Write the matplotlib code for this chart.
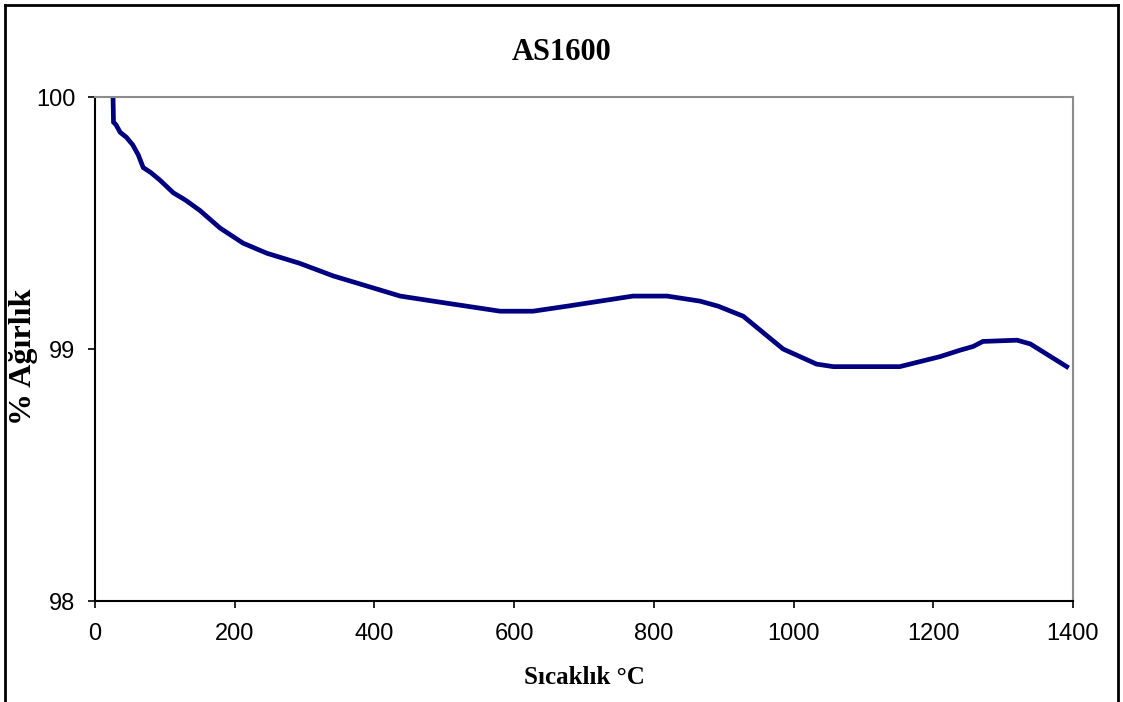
#!/usr/bin/env python3
"""TGA curve for AS1600: weight % vs temperature, Excel-like styling."""
import matplotlib
matplotlib.use("Agg")
import matplotlib.pyplot as plt
from matplotlib.lines import Line2D

# Temperature (C) and weight (%)
temp = [25.8, 26.5, 30, 36, 45, 54, 62, 69, 80, 93, 112, 130, 150, 179, 212,
        246, 293, 341, 389, 437, 484, 532, 580, 627, 676, 723, 770, 819, 866,
        892, 928, 985, 1009, 1033, 1057, 1152, 1181, 1210, 1238, 1257, 1271,
        1320, 1339, 1391]
weight = [100.0, 99.90, 99.89, 99.86, 99.84, 99.81, 99.77, 99.72, 99.70, 99.67,
          99.62, 99.59, 99.55, 99.48, 99.42, 99.38, 99.34, 99.29, 99.25, 99.21,
          99.19, 99.17, 99.15, 99.15, 99.17, 99.19, 99.21, 99.21, 99.19, 99.17,
          99.13, 99.00, 98.97, 98.94, 98.93, 98.93, 98.95, 98.97, 98.995, 99.01,
          99.03, 99.035, 99.02, 98.93]

x_ticks = [0, 200, 400, 600, 800, 1000, 1200, 1400]
y_ticks = [98, 99, 100]

SERIF = "Liberation Serif"
SANS = "Liberation Sans"


def main():
    fig = plt.figure(figsize=(11.23, 7.02), dpi=100)
    ax = fig.add_axes([95 / 1123, 1 - 601 / 702, 978 / 1123, 504 / 702])

    ax.plot(temp, weight, color="#000080", linewidth=3.4, solid_joinstyle="miter")

    ax.set_xlim(0, 1400)
    ax.set_ylim(98, 100)
    ax.set_xticks(x_ticks)
    ax.set_yticks(y_ticks)
    ax.set_xticklabels([str(v) for v in x_ticks], fontfamily=SANS, fontsize=17)
    ax.set_yticklabels([str(v) for v in y_ticks], fontfamily=SANS, fontsize=17)
    ax.tick_params(direction="out", length=5, width=1.2, colors="black")
    ax.tick_params(axis="x", pad=11)
    ax.tick_params(axis="y", pad=9)

    # Excel-ish frame: black axes, gray top/right
    for side in ("left", "bottom"):
        ax.spines[side].set_color("black")
        ax.spines[side].set_linewidth(1.5)
    for side in ("top", "right"):
        ax.spines[side].set_color("#8c8c8c")
        ax.spines[side].set_linewidth(1.5)

    # axis titles placed in pixel positions of the original
    fig.text(584 / 1123, 1 - 677 / 702, "Sıcaklık °C", fontfamily=SERIF,
             fontweight="bold", fontsize=18, ha="center", va="center")
    fig.text(24 / 1123, 1 - 357 / 702, "% Ağırlık", fontfamily=SERIF,
             fontweight="bold", fontsize=23, rotation=90,
             ha="center", va="center")
    fig.text(562 / 1123, 1 - 53 / 702, "AS1600", fontfamily=SERIF,
             fontweight="bold", fontsize=22, ha="center", va="center")

    # outer chart border (bottom edge is outside the picture)
    bx0, bx1 = 5 / 1123, 1118 / 1123
    by1 = 1 - 5 / 702
    for xs, ys in (([bx0, bx0], [0, by1]), ([bx0, bx1], [by1, by1]),
                   ([bx1, bx1], [by1, 0])):
        fig.add_artist(Line2D(xs, ys, transform=fig.transFigure,
                              color="black", linewidth=2))

    fig.savefig("out.png", dpi=100)
    plt.close(fig)


if __name__ == "__main__":
    main()
